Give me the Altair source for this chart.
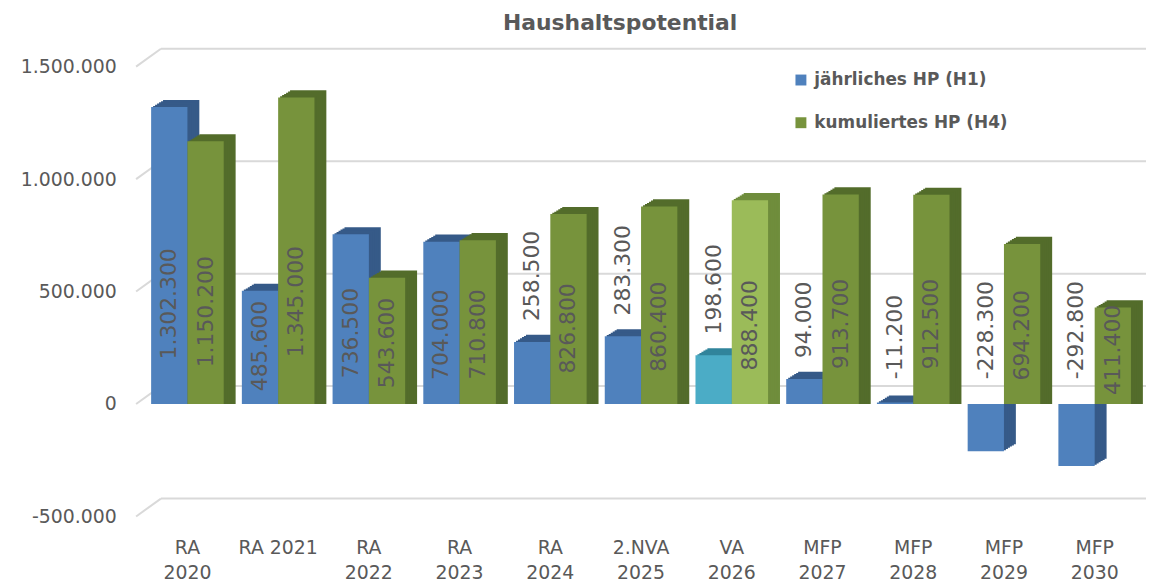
import altair as alt
import pandas as pd

# ---------------- data ----------------
categories = ["RA 2020", "RA 2021", "RA 2022", "RA 2023", "RA 2024", "2.NVA 2025",
              "VA 2026", "MFP 2027", "MFP 2028", "MFP 2029", "MFP 2030"]
series_names = ["jährliches HP (H1)", "kumuliertes HP (H4)"]
h1_values = [1302300, 485600, 736500, 704000, 258500, 283300, 198600, 94000, -11200, -228300, -292800]
h4_values = [1150200, 1345000, 543600, 710800, 826800, 860400, 888400, 913700, 912500, 694200, 411400]
highlight = ["VA 2026"]
nowrap = ["RA 2021"]
y_ticks = [-500000, 0, 500000, 1000000, 1500000]

rows = []
for i, c in enumerate(categories):
    for s, vals in zip(series_names, [h1_values, h4_values]):
        rows.append({"cat": c, "series": s, "value": vals[i],
                     "key": s + (" *" if c in highlight else "")})
df = pd.DataFrame(rows)
grid_df = pd.DataFrame({"v": y_ticks})

keys = [series_names[0], series_names[1], series_names[0] + " *", series_names[1] + " *"]
front_colors = ["#4F81BD", "#77933C", "#4BACC6", "#9BBB59"]
depth_colors = ["#365A88", "#536C2B", "#31849B", "#6F8D3C"]

FONT = "DejaVu Sans"
TXT = "#595959"
W, H = 1005, 453

nowrap_expr = " || ".join("datum.value == '%s'" % n for n in nowrap)
x_enc = alt.X("cat:N", sort=categories,
              scale=alt.Scale(paddingInner=0.2, paddingOuter=0.1),
              axis=alt.Axis(title=None, domain=False, ticks=False, labelAngle=0,
                            labelFont=FONT, labelFontSize=19, labelColor=TXT,
                            labelPadding=22, labelLineHeight=25,
                            labelExpr="(%s) ? datum.value : split(datum.value, ' ')" % nowrap_expr))


def xoff(shift=0):
    return alt.XOffset("series:N", sort=series_names,
                       scale=alt.Scale(type="band", domain=series_names,
                                       paddingInner=0, paddingOuter=0,
                                       range=[alt.ExprRef("%s" % shift),
                                              alt.ExprRef("bandwidth('x') + %s" % shift)]))


y_axis = alt.Axis(title=None, domain=False, ticks=False, grid=False, values=y_ticks,
                  labelFont=FONT, labelFontSize=19, labelColor=TXT, labelPadding=26,
                  labelExpr="replace(replace(replace(format(datum.value, ','), ',', '.'), ',', '.'), '\u2212', '-')")
y_scale = alt.Scale(domain=[-500000, 1500000], nice=False, zero=False)

# back-wall gridlines
grid = alt.Chart(grid_df).mark_rule(color="#D9D9D9", strokeWidth=2, yOffset=-18).encode(
    y=alt.Y("v:Q", scale=y_scale, axis=y_axis),
    x=alt.value(19), x2=alt.value(W + 6))
diag = alt.Chart(grid_df).mark_rule(color="#D9D9D9", strokeWidth=2, y2Offset=-18).encode(
    y=alt.Y("v:Q", scale=y_scale, axis=y_axis), y2="v:Q",
    x=alt.value(-6), x2=alt.value(19))

layers = [grid, diag]

# pseudo-3D depth layers
for k in range(6, 0, -1):
    layers.append(
        alt.Chart(df).mark_bar(yOffset=-4 - 1.2 * k).encode(
            x=x_enc, xOffset=xoff(2 * k),
            y=alt.Y("value:Q", scale=y_scale, axis=y_axis),
            y2=alt.datum(0),
            color=alt.Color("key:N", scale=alt.Scale(domain=keys, range=depth_colors), legend=None))
    )

front = alt.Chart(df).mark_bar(yOffset=-4).encode(
    x=x_enc, xOffset=xoff(0),
    y=alt.Y("value:Q", scale=y_scale, axis=y_axis),
    y2=alt.datum(0),
    color=alt.Color("key:N", scale=alt.Scale(domain=keys, range=front_colors),
                    legend=alt.Legend(values=series_names, title=None, orient="none",
                                      legendX=655, legendY=5, symbolType="square",
                                      symbolSize=121, symbolStrokeWidth=0, labelLimit=0,
                                      labelFont=FONT, labelFontSize=17, labelFontWeight="bold",
                                      labelColor=TXT, rowPadding=25, labelOffset=5)))
layers.append(front)

label_calc = "replace(replace(replace(format(datum.value, ','), ',', '.'), ',', '.'), '\u2212', '-')"

inside = alt.Chart(df).transform_filter("datum.value > 400000").transform_calculate(
    lbl=label_calc, ly="0.23 * datum.value").mark_text(
    angle=270, align="center", baseline="middle", dx=33, font=FONT, fontSize=22, color=TXT).encode(
    x=x_enc, xOffset=xoff(0),
    y=alt.Y("ly:Q", scale=y_scale, axis=y_axis),
    text="lbl:N")
outside = alt.Chart(df).transform_filter("datum.value <= 400000").transform_calculate(
    lbl=label_calc, ly="max(datum.value, 0)").mark_text(
    angle=270, align="left", baseline="middle", dx=25, font=FONT, fontSize=22, color=TXT).encode(
    x=x_enc, xOffset=xoff(0),
    y=alt.Y("ly:Q", scale=y_scale, axis=y_axis),
    text="lbl:N")
layers += [inside, outside]

chart = alt.layer(*layers).resolve_scale(color="independent", xOffset="independent").properties(
    width=W, height=H,
    autosize=alt.AutoSizeParams(type="none"),
    padding={"left": 135, "top": 57, "right": 6, "bottom": 66},
    background="white",
    title=alt.TitleParams("Haushaltspotential", font=FONT, fontSize=22, fontWeight="bold",
                          color=TXT, anchor="middle", dx=-21, offset=13),
).configure_view(stroke=None)

chart.save("out.html", embed_options={"renderer": "svg", "actions": False})
